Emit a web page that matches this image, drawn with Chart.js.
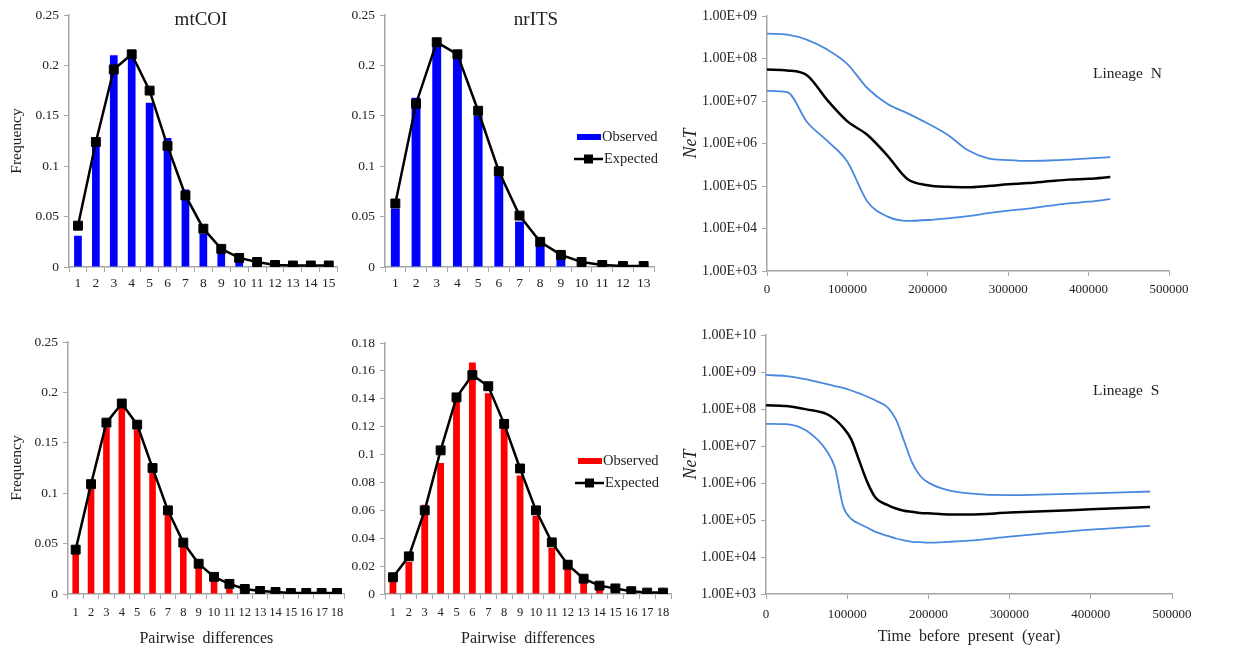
<!DOCTYPE html>
<html>
<head>
<meta charset="utf-8">
<script src="https://cdn.jsdelivr.net/npm/chart.js@4.4.1/dist/chart.umd.min.js"></script>
<style>
  body { margin: 0; background: #fff; width: 1237px; height: 648px; position: relative; overflow: hidden; }
  canvas { position: absolute; }
</style>
</head>
<body>
<canvas id="coiN"></canvas>
<canvas id="itsN"></canvas>
<canvas id="skyN"></canvas>
<canvas id="coiS"></canvas>
<canvas id="itsS"></canvas>
<canvas id="skyS"></canvas>
<script>
// mismatch distributions (frequency per number of pairwise differences)
const coiNCats = ['1','2','3','4','5','6','7','8','9','10','11','12','13','14','15'];
const coiNObserved = [0.031, 0.12, 0.21, 0.208, 0.163, 0.128, 0.077, 0.033, 0.015, 0.005, 0, 0, 0, 0, 0];
const coiNExpected = [0.041, 0.124, 0.196, 0.211, 0.175, 0.12, 0.071, 0.038, 0.018, 0.009, 0.005, 0.002, 0.0015, 0.0015, 0.0015];

const itsNCats = ['1','2','3','4','5','6','7','8','9','10','11','12','13'];
const itsNObserved = [0.058, 0.168, 0.22, 0.21, 0.15, 0.092, 0.045, 0.022, 0.01, 0, 0, 0, 0];
const itsNExpected = [0.063, 0.162, 0.223, 0.211, 0.155, 0.095, 0.051, 0.025, 0.012, 0.005, 0.002, 0.001, 0.001];

const coiSCats = ['1','2','3','4','5','6','7','8','9','10','11','12','13','14','15','16','17','18'];
const coiSObserved = [0.04, 0.105, 0.165, 0.185, 0.163, 0.12, 0.079, 0.047, 0.026, 0.013, 0.005, 0, 0, 0, 0, 0, 0, 0];
const coiSExpected = [0.044, 0.109, 0.17, 0.189, 0.168, 0.125, 0.083, 0.051, 0.03, 0.017, 0.01, 0.005, 0.003, 0.002, 0.001, 0.001, 0.001, 0.001];

const itsSCats = ['1','2','3','4','5','6','7','8','9','10','11','12','13','14','15','16','17','18'];
const itsSObserved = [0.01, 0.023, 0.064, 0.094, 0.138, 0.166, 0.144, 0.12, 0.085, 0.056, 0.033, 0.018, 0.009, 0.003, 0, 0, 0, 0];
const itsSExpected = [0.012, 0.027, 0.06, 0.103, 0.141, 0.157, 0.149, 0.122, 0.09, 0.06, 0.037, 0.021, 0.011, 0.006, 0.004, 0.002, 0.001, 0.001];

// skyline plots, NeT given as log10 values
const skyNTime = [0, 25000, 50000, 75000, 100000, 125000, 150000, 175000, 200000, 225000, 250000, 275000, 300000, 325000, 350000, 375000, 400000, 427000];
const skyNUpper = [8.585, 8.56, 8.44, 8.21, 7.87, 7.3, 6.93, 6.71, 6.47, 6.2, 5.84, 5.65, 5.61, 5.59, 5.6, 5.62, 5.65, 5.68];
const skyNMedian = [7.74, 7.72, 7.6, 7.02, 6.52, 6.2, 5.71, 5.16, 5.02, 4.98, 4.97, 5.0, 5.04, 5.07, 5.11, 5.15, 5.17, 5.21];
const skyNLower = [7.24, 7.21, 6.5, 6.06, 5.57, 4.63, 4.28, 4.18, 4.2, 4.24, 4.29, 4.36, 4.42, 4.47, 4.53, 4.59, 4.63, 4.69];

const skySTime = [0, 25000, 50000, 75000, 85000, 95000, 105000, 115000, 125000, 135000, 150000, 160000, 170000, 180000, 190000, 200000, 225000, 250000, 300000, 350000, 400000, 473000];
const skySUpper = [8.92, 8.89, 8.8, 8.67, 8.62, 8.57, 8.5, 8.42, 8.33, 8.23, 8.04, 7.72, 7.14, 6.55, 6.19, 6.01, 5.8, 5.72, 5.67, 5.69, 5.72, 5.77];
const skySMedian = [8.1, 8.08, 7.99, 7.86, 7.72, 7.5, 7.18, 6.59, 6.01, 5.6, 5.4, 5.31, 5.25, 5.22, 5.19, 5.18, 5.15, 5.15, 5.2, 5.24, 5.29, 5.35];
const skySLower = [7.6, 7.59, 7.41, 6.86, 6.41, 5.37, 5.03, 4.9, 4.79, 4.68, 4.57, 4.5, 4.45, 4.41, 4.4, 4.39, 4.41, 4.44, 4.55, 4.65, 4.74, 4.84];

const serif = '"Liberation Serif", "Times New Roman", serif';
const axisGray = '#a6a6a6';
const textCol = '#222';
const blueLine = '#4a88e0';

// text labels and the small legends drawn on top of each panel
const overlay = {
  id: 'overlay',
  afterDraw(chart, args, opts) {
    const ctx = chart.ctx;
    const ox = opts.box[0], oy = opts.box[1];
    (opts.texts || []).forEach(t => {
      ctx.save();
      ctx.font = t.font;
      ctx.fillStyle = textCol;
      ctx.textAlign = t.align || 'left';
      ctx.textBaseline = 'middle';
      ctx.fillText(t.text, t.x - ox, t.y - oy);
      ctx.restore();
    });
    if (opts.legend) {
      const lx = opts.legend.x - ox, ly = opts.legend.y - oy;
      const bars = chart.data.datasets[1], line = chart.data.datasets[0];
      ctx.save();
      ctx.fillStyle = bars.backgroundColor;
      ctx.fillRect(lx, ly - 3, 24, 6);
      ctx.font = '14.5px ' + serif;
      ctx.fillStyle = textCol;
      ctx.textBaseline = 'middle';
      ctx.fillText(bars.label, lx + 25, ly);
      ctx.strokeStyle = '#000';
      ctx.lineWidth = 2.5;
      ctx.beginPath();
      ctx.moveTo(lx - 3, ly + 22);
      ctx.lineTo(lx + 26, ly + 22);
      ctx.stroke();
      ctx.fillStyle = '#000';
      ctx.fillRect(lx + 7, ly + 22 - 4.5, 9, 9);
      ctx.fillStyle = textCol;
      ctx.fillText(line.label, lx + 27, ly + 22);
      ctx.restore();
    }
  }
};

function place(id, box) {
  const c = document.getElementById(id);
  c.width = box[2];
  c.height = box[3];
  c.style.left = box[0] + 'px';
  c.style.top = box[1] + 'px';
  return c;
}

function axisGrid() {
  return { display: true, drawOnChartArea: false, drawTicks: true, tickLength: 5, color: axisGray };
}

function freqChart(id, box, area, cats, observed, expected, color, yMax, yStep, extra) {
  const ctx = place(id, box);
  return new Chart(ctx, {
    type: 'bar',
    data: {
      labels: cats,
      datasets: [{
        type: 'line',
        label: 'Expected',
        data: expected,
        borderColor: '#000',
        borderWidth: 2.5,
        pointStyle: 'rect',
        pointRadius: 6.3,
        pointBackgroundColor: '#000',
        pointBorderColor: '#000',
        pointBorderWidth: 1,
        tension: 0,
        order: 0
      }, {
        label: 'Observed',
        data: observed,
        backgroundColor: color,
        barPercentage: 0.43,
        categoryPercentage: 1,
        order: 1
      }]
    },
    options: {
      responsive: false,
      animation: false,
      layout: { padding: { top: area[1] - box[1], right: box[0] + box[2] - area[2], left: 0, bottom: 0 } },
      plugins: {
        legend: { display: false },
        tooltip: { enabled: false },
        overlay: Object.assign({ box: box }, extra.overlay)
      },
      scales: {
        x: {
          grid: Object.assign(axisGrid(), { offset: true }),
          border: { color: axisGray, width: 1.5 },
          ticks: { color: textCol, font: { family: serif, size: extra.xTick || 13.5 }, maxRotation: 0, autoSkip: false, padding: extra.xTickPad || 3 },
          title: extra.xTitle ? { display: true, text: extra.xTitle, color: textCol, font: { family: serif, size: 16 }, padding: { top: 4, bottom: 0 } } : { display: false },
          afterFit(s) { s.height = box[1] + box[3] - area[3]; }
        },
        y: {
          min: 0,
          max: yMax,
          ticks: { stepSize: yStep, color: textCol, font: { family: serif, size: 13.5 }, padding: 5,
            callback: v => String(+v.toFixed(4)) },
          grid: axisGrid(),
          border: { color: axisGray, width: 1.5 },
          title: extra.yTitle ? { display: true, text: extra.yTitle, color: textCol, font: { family: serif, size: 15.5 }, padding: { top: 8, bottom: 0 } } : { display: false },
          afterFit(s) { s.width = area[0] - box[0]; }
        }
      }
    },
    plugins: [overlay]
  });
}

function sciLabel(v) {
  const e = Math.round(Math.log10(v));
  return '1.00E+' + (e < 10 ? '0' : '') + e;
}

function skyChart(id, box, area, time, upper, median, lower, yMaxExp, extra) {
  const ctx = place(id, box);
  const pts = arr => arr.map((v, i) => ({ x: time[i], y: Math.pow(10, v) }));
  const lineStyle = (col, w) => ({ borderColor: col, borderWidth: w, pointRadius: 0, fill: false, cubicInterpolationMode: 'monotone' });
  return new Chart(ctx, {
    type: 'line',
    data: {
      datasets: [
        Object.assign({ label: 'Upper', data: pts(upper) }, lineStyle(blueLine, 1.8)),
        Object.assign({ label: 'Median', data: pts(median) }, lineStyle('#000', 2.5)),
        Object.assign({ label: 'Lower', data: pts(lower) }, lineStyle(blueLine, 1.8))
      ]
    },
    options: {
      responsive: false,
      animation: false,
      layout: { padding: { top: area[1] - box[1], right: box[0] + box[2] - area[2], left: 0, bottom: 0 } },
      plugins: {
        legend: { display: false },
        tooltip: { enabled: false },
        overlay: Object.assign({ box: box }, extra.overlay)
      },
      scales: {
        x: {
          type: 'linear',
          min: 0,
          max: 500000,
          ticks: { stepSize: 100000, color: textCol, font: { family: serif, size: 13 }, maxRotation: 0, padding: extra.xTickPad || 5,
            callback: v => String(v) },
          grid: axisGrid(),
          border: { color: axisGray, width: 1.5 },
          title: extra.xTitle ? { display: true, text: extra.xTitle, color: textCol, font: { family: serif, size: 16 }, padding: { top: 4, bottom: 2 } } : { display: false },
          afterFit(s) { s.height = box[1] + box[3] - area[3]; }
        },
        y: {
          type: 'logarithmic',
          min: 1e3,
          max: Math.pow(10, yMaxExp),
          afterBuildTicks(s) {
            const t = [];
            for (let e = 3; e <= yMaxExp; e++) t.push({ value: Math.pow(10, e) });
            s.ticks = t;
          },
          ticks: { color: textCol, font: { family: serif, size: 14 }, padding: 5, callback: v => sciLabel(v) },
          grid: axisGrid(),
          border: { color: axisGray, width: 1.5 },
          title: { display: true, text: 'NeT', color: textCol, font: { family: serif, size: 18, style: 'italic' }, padding: { top: 0, bottom: 0 } },
          afterFit(s) { s.width = area[0] - box[0]; }
        }
      }
    },
    plugins: [overlay]
  });
}

// boxes: [left, top, width, height]; areas: [left, top, right, bottom] in page pixels
freqChart('coiN', [0, 0, 345, 300], [69, 15, 338, 267], coiNCats, coiNObserved, coiNExpected, '#0000ff', 0.25, 0.05, {
  yTitle: 'Frequency',
  overlay: { texts: [{ text: 'mtCOI', x: 201, y: 20, font: '19px ' + serif, align: 'center' }] }
});
freqChart('itsN', [340, 0, 330, 300], [385, 15, 654, 267], itsNCats, itsNObserved, itsNExpected, '#0000ff', 0.25, 0.05, {
  overlay: { texts: [{ text: 'nrITS', x: 536, y: 20, font: '19px ' + serif, align: 'center' }], legend: { x: 577, y: 137 } }
});
skyChart('skyN', [680, 0, 557, 300], [767, 16, 1169, 271], skyNTime, skyNUpper, skyNMedian, skyNLower, 9, {
  xTickPad: 6,
  overlay: { texts: [{ text: 'Lineage  N', x: 1093, y: 74, font: '15.5px ' + serif }] }
});
freqChart('coiS', [0, 320, 352, 328], [68, 342, 346, 594], coiSCats, coiSObserved, coiSExpected, '#ff0000', 0.25, 0.05, {
  yTitle: 'Frequency',
  xTitle: 'Pairwise  differences',
  xTick: 12.5,
  xTickPad: 6,
  overlay: { texts: [] }
});
freqChart('itsS', [340, 320, 340, 328], [385, 343, 671, 594], itsSCats, itsSObserved, itsSExpected, '#ff0000', 0.18, 0.02, {
  xTitle: 'Pairwise  differences',
  xTick: 12.5,
  xTickPad: 6,
  overlay: { texts: [], legend: { x: 578, y: 461 } }
});
skyChart('skyS', [680, 320, 557, 328], [766, 335, 1172, 594], skySTime, skySUpper, skySMedian, skySLower, 10, {
  xTitle: 'Time  before  present  (year)',
  xTickPad: 8,
  overlay: { texts: [{ text: 'Lineage  S', x: 1093, y: 391, font: '15.5px ' + serif }] }
});
</script>
</body>
</html>
